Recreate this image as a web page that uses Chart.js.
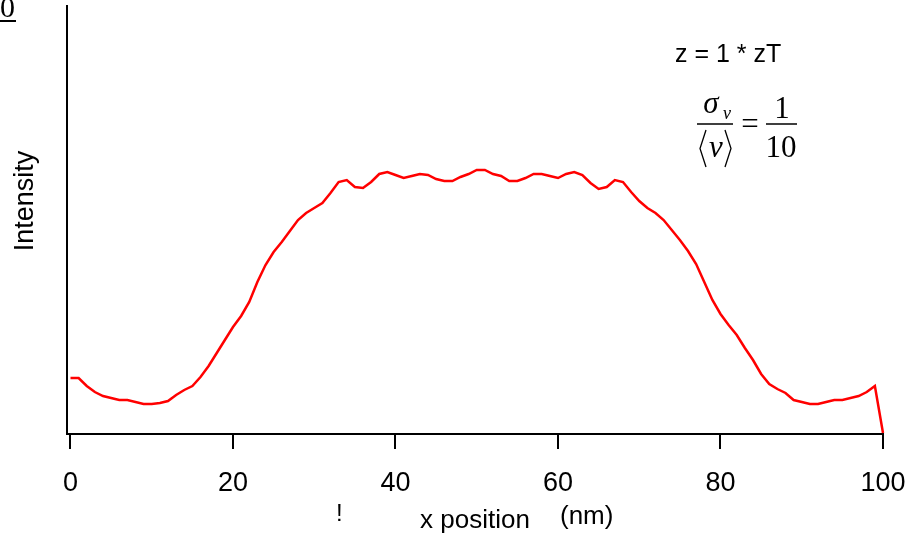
<!DOCTYPE html>
<html>
<head>
<meta charset="utf-8">
<title>Intensity profile</title>
<script src="https://cdn.jsdelivr.net/npm/chart.js@4.4.1/dist/chart.umd.min.js"></script>
<style>
    html, body { margin: 0; padding: 0; background: #fff; }
    canvas { display: block; }
</style>
</head>
<body>
<canvas id="profileChart" width="909" height="537"></canvas>
<script>
// sample positions along x (nm)
const xPositions = [
    0, 1, 2, 3, 4, 5, 6, 7, 8, 9,
    10, 11, 12, 13, 14, 15, 16, 17, 18, 19,
    20, 21, 22, 23, 24, 25, 26, 27, 28, 29,
    30, 31, 32, 33, 34, 35, 36, 37, 38, 39,
    40, 41, 42, 43, 44, 45, 46, 47, 48, 49,
    50, 51, 52, 53, 54, 55, 56, 57, 58, 59,
    60, 61, 62, 63, 64, 65, 66, 67, 68, 69,
    70, 71, 72, 73, 74, 75, 76, 77, 78, 79,
    80, 81, 82, 83, 84, 85, 86, 87, 88, 89,
    90, 91, 92, 93, 94, 95, 96, 97, 98, 99,
    100
];

// intensity (arbitrary units)
const intensity = [
    56, 56, 48, 42, 38, 36, 34, 34, 32, 30,
    30, 31, 33, 39, 44, 48, 57, 68, 81, 94,
    107, 118, 132, 152, 169, 182, 192, 203, 214, 221,
    226, 231, 241, 252, 254, 247, 246, 252, 260, 262,
    259, 256, 258, 260, 259, 255, 253, 253, 257, 260,
    264, 264, 260, 258, 253, 253, 256, 260, 260, 258,
    256, 260, 262, 259, 251, 245, 247, 254, 252, 242,
    233, 226, 221, 214, 204, 194, 183, 170, 152, 134,
    120, 109, 99, 86, 74, 60, 50, 45, 41, 34,
    32, 30, 30, 32, 34, 34, 36, 38, 42, 48,
    1
];

const xTicks = [0, 20, 40, 60, 80, 100];

const sans = "'Liberation Sans', Arial, sans-serif";
const serif = "'Liberation Serif', 'Times New Roman', serif";

// texts that are not part of the axes
const labelsPlugin = {
    id: "labelsPlugin",
    afterDraw(chart) {
        const ctx = chart.ctx;
        ctx.save();
        ctx.fillStyle = "#000";
        ctx.strokeStyle = "#000";
        ctx.textBaseline = "alphabetic";

        // clipped label in the corner
        ctx.font = "30px " + serif;
        ctx.textAlign = "left";
        ctx.fillText("0", 0, 17);
        ctx.lineWidth = 2;
        ctx.beginPath();
        ctx.moveTo(0, 21);
        ctx.lineTo(16, 21);
        ctx.stroke();

        // y title
        ctx.save();
        ctx.translate(33, 201);
        ctx.rotate(-Math.PI / 2);
        ctx.font = "27px " + sans;
        ctx.textAlign = "center";
        ctx.fillText("Intensity", 0, 0);
        ctx.restore();

        // x title
        ctx.font = "26px " + sans;
        ctx.textAlign = "left";
        ctx.fillText("x position", 420, 528);
        ctx.fillText("(nm)", 560, 524);
        ctx.font = "24px " + sans;
        ctx.fillText("!", 336, 521);

        // annotation
        ctx.font = "25px " + sans;
        ctx.fillText("z = 1 * zT", 675, 62);

        // sigma_v / <v> = 1/10
        ctx.font = "italic 31px " + serif;
        ctx.textAlign = "center";
        ctx.fillText("\u03C3", 711, 113);
        ctx.font = "italic 18px " + serif;
        ctx.fillText("\u03BD", 727, 119);
        ctx.font = "italic 31px " + serif;
        ctx.fillText("\u03BD", 716, 157);

        ctx.lineWidth = 1.5;
        ctx.beginPath();
        ctx.moveTo(697, 124);
        ctx.lineTo(733, 124);
        ctx.moveTo(766, 124);
        ctx.lineTo(797, 124);
        ctx.stroke();

        // angle brackets
        ctx.lineWidth = 1.3;
        ctx.beginPath();
        ctx.moveTo(706, 130);
        ctx.lineTo(700, 148.5);
        ctx.lineTo(706, 167);
        ctx.moveTo(725, 130);
        ctx.lineTo(731, 148.5);
        ctx.lineTo(725, 167);
        ctx.stroke();

        ctx.font = "31px " + serif;
        ctx.fillText("=", 750, 134);
        ctx.fillText("1", 782, 118);
        ctx.fillText("10", 781, 157);

        ctx.restore();
    }
};

const ctx = document.getElementById("profileChart");

new Chart(ctx, {
    type: "line",
    data: {
        datasets: [{
                label: "Intensity",
                data: xPositions.map((x, i) => ({x: x, y: intensity[i]})),
                borderColor: "#ff0000",
                borderWidth: 2.5,
                pointRadius: 0,
                tension: 0,
                fill: false,
                clip: false
            }]
    },
    options: {
        responsive: false,
        animation: false,
        events: [],
        layout: {
            padding: {top: 6, right: 26, bottom: 0, left: 0}
        },
        plugins: {
            legend: {display: false},
            tooltip: {enabled: false}
        },
        scales: {
            x: {
                type: "linear",
                min: -0.43,
                max: 100,
                afterBuildTicks: (scale) => {
                    scale.ticks = xTicks.map(v => ({value: v}));
                },
                afterFit: (scale) => {
                    scale.height = 103;
                    scale.paddingLeft = 0;
                    scale.paddingRight = 0;
                },
                grid: {
                    drawOnChartArea: false,
                    drawTicks: true,
                    tickLength: 15,
                    color: "#000",
                    lineWidth: 2
                },
                border: {color: "#000", width: 2},
                ticks: {
                    color: "#000",
                    padding: 18,
                    maxRotation: 0,
                    autoSkip: false,
                    font: {family: sans, size: 27}
                }
            },
            y: {
                min: 0,
                max: 428,
                afterFit: (scale) => {
                    scale.width = 67;
                },
                grid: {display: false, drawTicks: false},
                border: {display: true, color: "#000", width: 2},
                ticks: {display: false}
            }
        }
    },
    plugins: [labelsPlugin]
});
</script>
</body>
</html>
